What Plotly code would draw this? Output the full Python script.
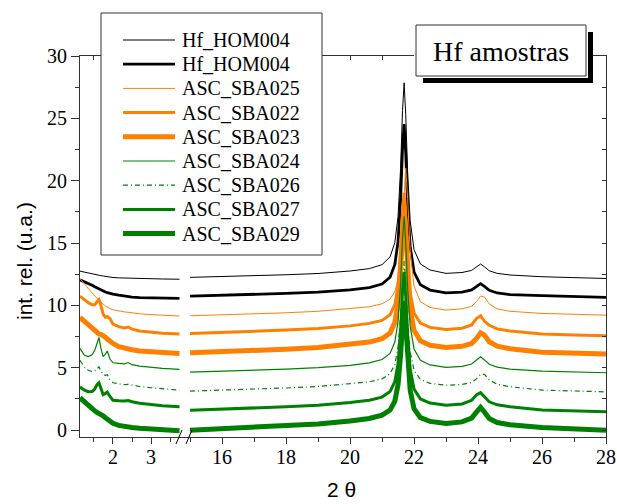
import plotly.graph_objects as go

# ---------------- data ----------------
NAMES = ["Hf_HOM004", "Hf_HOM004", "ASC_SBA025", "ASC_SBA022", "ASC_SBA023",
         "ASC_SBA024", "ASC_SBA026", "ASC_SBA027", "ASC_SBA029"]

# low-angle segment (2 theta)
L_X = [1.13, 1.25, 1.35, 1.45, 1.52, 1.58, 1.63, 1.68, 1.74, 1.80, 1.85,
       1.92, 2.0, 2.15, 2.3, 2.4, 2.5, 2.7, 3.0, 3.3, 3.75]
# wide-angle segment (2 theta)
R_X = [15.0, 16.0, 17.0, 18.0, 19.0, 20.0, 20.6, 21.0, 21.25, 21.4, 21.5,
       21.58, 21.64, 21.69, 21.74, 21.8, 21.88, 22.0, 22.2, 22.5, 23.0, 23.5,
       23.8, 23.95, 24.08, 24.2, 24.35, 24.6, 25.0, 26.0, 27.0, 28.0]

HOM004_THIN_L = [12.75, 12.66, 12.6, 12.53, 12.49, 12.45, 12.42, 12.39, 12.36, 12.33, 12.3,
                 12.27, 12.24, 12.21, 12.19, 12.18, 12.17, 12.16, 12.14, 12.12, 12.1]
HOM004_THIN_R = [12.25, 12.31, 12.38, 12.46, 12.56, 12.76, 12.95, 13.27, 13.89, 15.04, 17.13,
                 21.0, 25.63, 27.85, 25.3, 20.67, 16.8, 14.47, 13.32, 12.84, 12.57, 12.64,
                 12.81, 13.09, 13.32, 13.1, 12.78, 12.57, 12.44, 12.3, 12.23, 12.16]

HOM004_THICK_L = [12.05, 11.9, 11.78, 11.62, 11.5, 11.4, 11.32, 11.24, 11.15, 11.08, 11.02,
                  10.95, 10.9, 10.82, 10.74, 10.7, 10.67, 10.63, 10.6, 10.58, 10.56]
HOM004_THICK_R = [10.75, 10.81, 10.88, 10.96, 11.06, 11.25, 11.43, 11.71, 12.26, 13.28, 15.11,
                  18.52, 22.6, 24.55, 22.2, 18.12, 14.71, 12.67, 11.65, 11.23, 11.0, 11.07,
                  11.24, 11.52, 11.75, 11.53, 11.21, 11.0, 10.87, 10.78, 10.71, 10.64]

SBA025_L = [12.15, 11.75, 11.4, 11.0, 10.75, 10.55, 10.45, 10.3, 10.1, 9.95, 9.85,
            9.75, 9.65, 9.55, 9.48, 9.45, 9.4, 9.33, 9.26, 9.2, 9.15]
SBA025_R = [9.17, 9.24, 9.32, 9.41, 9.53, 9.72, 9.89, 10.13, 10.5, 11.11, 12.11,
            13.91, 16.5, 19.45, 21.0, 18.57, 14.34, 11.55, 10.29, 9.84, 9.62, 9.73,
            9.93, 10.3, 10.75, 10.68, 10.12, 9.72, 9.53, 9.36, 9.29, 9.22]

SBA022_L = [10.75, 10.45, 10.22, 10.05, 10.05, 10.3, 10.47, 10.05, 9.3, 9.05, 9.1,
            8.95, 8.5, 8.3, 8.2, 8.27, 8.1, 7.95, 7.85, 7.76, 7.7]
SBA022_R = [7.75, 7.83, 7.92, 8.02, 8.15, 8.36, 8.56, 8.8, 9.25, 10.06, 11.52,
            14.23, 17.48, 19.03, 16.97, 13.72, 11.01, 9.39, 8.58, 8.24, 8.07, 8.17,
            8.43, 8.95, 9.17, 8.75, 8.41, 8.12, 7.95, 7.7, 7.63, 7.56]

SBA023_L = [9.05, 8.75, 8.45, 8.15, 7.95, 7.8, 7.72, 7.68, 7.6, 7.45, 7.3,
            7.12, 6.95, 6.7, 6.55, 6.5, 6.45, 6.35, 6.27, 6.2, 6.15]
SBA023_R = [6.2, 6.28, 6.38, 6.49, 6.63, 6.85, 7.06, 7.33, 7.79, 8.63, 10.15,
            12.96, 16.33, 17.94, 15.87, 12.5, 9.69, 8.0, 7.16, 6.81, 6.63, 6.72,
            6.95, 7.34, 7.8, 7.62, 7.09, 6.73, 6.53, 6.24, 6.17, 6.1]

SBA024_L = [6.55, 6.0, 5.9, 6.05, 6.4, 7.0, 7.43, 6.6, 5.9, 6.1, 6.35,
            5.7, 5.4, 5.35, 5.32, 5.42, 5.25, 5.13, 5.03, 4.95, 4.87]
SBA024_R = [4.65, 4.72, 4.8, 4.89, 5.01, 5.2, 5.39, 5.66, 6.15, 7.06, 8.7,
            11.75, 15.39, 17.14, 15.03, 11.39, 8.34, 6.51, 5.61, 5.23, 5.03, 5.11,
            5.3, 5.62, 5.88, 5.63, 5.28, 5.05, 4.9, 4.74, 4.67, 4.6]

SBA026_L = [5.6, 5.05, 4.8, 4.7, 4.72, 4.9, 5.08, 4.75, 4.45, 4.4, 4.45,
            4.05, 3.8, 3.72, 3.65, 3.68, 3.6, 3.5, 3.4, 3.3, 3.2]
SBA026_R = [3.13, 3.2, 3.29, 3.38, 3.5, 3.7, 3.87, 4.11, 4.52, 5.27, 6.61,
            9.12, 12.11, 13.55, 11.81, 8.82, 6.31, 4.81, 4.06, 3.75, 3.6, 3.66,
            3.82, 4.11, 4.47, 4.48, 4.03, 3.67, 3.48, 3.21, 3.14, 3.07]

SBA027_L = [3.45, 3.2, 3.08, 3.1, 3.3, 3.65, 3.8, 3.35, 2.85, 2.95, 3.05,
            2.7, 2.4, 2.35, 2.33, 2.38, 2.28, 2.15, 2.05, 1.95, 1.87]
SBA027_R = [1.6, 1.68, 1.77, 1.87, 2.0, 2.21, 2.4, 2.65, 3.09, 3.88, 5.32,
            7.97, 11.16, 12.68, 10.73, 7.54, 4.89, 3.29, 2.5, 2.17, 2.0, 2.1,
            2.39, 2.82, 3.0, 2.66, 2.27, 2.03, 1.88, 1.61, 1.54, 1.47]

SBA029_L = [2.6, 2.25, 1.95, 1.7, 1.55, 1.42, 1.35, 1.28, 1.15, 1.0, 0.88,
            0.72, 0.55, 0.38, 0.28, 0.27, 0.22, 0.15, 0.08, 0.02, -0.04]
SBA029_R = [0.0, 0.1, 0.21, 0.34, 0.5, 0.74, 0.94, 1.2, 1.61, 2.33, 3.64,
            6.06, 8.97, 10.36, 8.51, 5.6, 3.18, 1.72, 1.0, 0.7, 0.54, 0.66,
            0.96, 1.44, 1.83, 1.46, 0.94, 0.61, 0.43, 0.22, 0.11, 0.0]

LEFT_Y = [HOM004_THIN_L, HOM004_THICK_L, SBA025_L, SBA022_L, SBA023_L,
          SBA024_L, SBA026_L, SBA027_L, SBA029_L]
RIGHT_Y = [HOM004_THIN_R, HOM004_THICK_R, SBA025_R, SBA022_R, SBA023_R,
           SBA024_R, SBA026_R, SBA027_R, SBA029_R]

Y_TICKS = [0, 5, 10, 15, 20, 25, 30]
XL_TICKS = [2, 3]
XR_TICKS = [16, 18, 20, 22, 24, 26, 28]

# ---------------- styles ----------------
BLACK, ORANGE, GREEN = "#000000", "#FF8000", "#008000"
COLORS = [BLACK, BLACK, ORANGE, ORANGE, ORANGE, GREEN, GREEN, GREEN, GREEN]
WIDTHS = [1.0, 2.8, 1.0, 3.0, 5.0, 1.2, 1.2, 3.0, 5.0]
DASHES = ["solid"] * 6 + ["5px,3px,1px,3px"] + ["solid"] * 2

W, H = 617, 504
ML, MR, MT, MB = 80, 11, 56, 67
PW, PH = W - ML - MR, H - MT - MB
BREAK = (184 - ML) / PW


def fx(px):
    return (px - ML) / PW


def fy(py):
    return (H - MB - py) / PH


SERIF = "Liberation Serif, Times New Roman, serif"
SANS = "Liberation Sans, Arial, sans-serif"
AXC = "#333333"

fig = go.Figure()
for i in range(len(NAMES)):
    fig.add_trace(go.Scatter(
        x=R_X, y=RIGHT_Y[i], xaxis="x2", yaxis="y", mode="lines", name=NAMES[i],
        showlegend=False,
        line=dict(color=COLORS[i], width=WIDTHS[i], dash=DASHES[i])))
for i in range(len(NAMES)):
    fig.add_trace(go.Scatter(
        x=L_X, y=LEFT_Y[i], xaxis="x", yaxis="y", mode="lines", name=NAMES[i],
        showlegend=False,
        line=dict(color=COLORS[i], width=WIDTHS[i], dash=DASHES[i])))

# empty traces so the mirror axes (top/right, inward ticks) are drawn
for xa, ya in (("x3", "y"), ("x4", "y"), ("x2", "y2")):
    fig.add_trace(go.Scatter(x=[None], y=[None], xaxis=xa, yaxis=ya,
                             showlegend=False, hoverinfo="skip"))

tickfont = dict(family=SERIF, size=20, color="black")
common_x = dict(showline=True, linecolor=AXC, linewidth=1, showgrid=False,
                zeroline=False, ticks="outside", ticklen=6, tickwidth=1,
                tickcolor=AXC, tickfont=tickfont, anchor="y", automargin=False,
                ticklabelstandoff=-4)
XL_RANGE = [1.132, 3.868]
XR_RANGE = [14.81, 28.0]
Y_RANGE = [-0.55, 30.0]

fig.update_layout(
    width=W, height=H, margin=dict(l=ML, r=MR, t=MT, b=MB, autoexpand=False),
    paper_bgcolor="white", plot_bgcolor="white",
    xaxis=dict(domain=[0, BREAK], range=XL_RANGE, tickvals=XL_TICKS,
               minor=dict(dtick=0.5, tick0=0, ticks="outside", ticklen=4,
                          tickcolor=AXC), **common_x),
    xaxis2=dict(domain=[BREAK, 1], range=XR_RANGE, tickvals=XR_TICKS,
                minor=dict(dtick=1, tick0=0, ticks="outside", ticklen=4,
                           tickcolor=AXC), **common_x),
    xaxis3=dict(overlaying="x", side="top", anchor="y", domain=[0, BREAK],
                range=XL_RANGE, showline=True, linecolor=AXC, linewidth=1,
                showgrid=False, zeroline=False, ticks="inside", ticklen=4,
                tickcolor=AXC, dtick=0.5, tick0=0, showticklabels=False,
                automargin=False),
    xaxis4=dict(overlaying="x2", side="top", anchor="y", domain=[BREAK, 1],
                range=XR_RANGE, showline=True, linecolor=AXC, linewidth=1,
                showgrid=False, zeroline=False, ticks="inside", ticklen=4,
                tickcolor=AXC, dtick=1, tick0=0, showticklabels=False,
                automargin=False),
    yaxis=dict(domain=[0, 1], range=Y_RANGE, tickvals=Y_TICKS, anchor="x",
               showline=True, linecolor=AXC, linewidth=1, showgrid=False,
               zeroline=False, ticks="outside", ticklen=8, tickcolor=AXC,
               tickfont=tickfont, automargin=False,
               minor=dict(dtick=2.5, tick0=0, ticks="outside", ticklen=4,
                          tickcolor=AXC)),
    yaxis2=dict(overlaying="y", side="right", anchor="x2", range=Y_RANGE,
                showline=True, linecolor=AXC, linewidth=1, showgrid=False,
                zeroline=False, ticks="inside", ticklen=4, tickcolor=AXC,
                dtick=2.5, tick0=0, showticklabels=False, automargin=False),
    showlegend=False,
)

# ---- legend box (drawn as a key panel) ----
LEG_X0, LEG_X1, LEG_Y0, LEG_Y1 = 101, 322, 13, 255
ROW0, ROWSTEP = 40.0, 24.2
fig.add_shape(type="rect", xref="paper", yref="paper", layer="above",
              x0=fx(LEG_X0), x1=fx(LEG_X1), y0=fy(LEG_Y1), y1=fy(LEG_Y0),
              fillcolor="white", line=dict(color=AXC, width=1))
for i, name in enumerate(NAMES):
    ry = ROW0 + ROWSTEP * i
    fig.add_shape(type="line", xref="paper", yref="paper", layer="above",
                  x0=fx(123), x1=fx(175), y0=fy(ry), y1=fy(ry),
                  line=dict(color=COLORS[i], width=WIDTHS[i], dash=DASHES[i]))
    fig.add_annotation(text=name, xref="paper", yref="paper", x=fx(180), y=fy(ry),
                       xanchor="left", yanchor="middle", showarrow=False,
                       font=dict(family=SERIF, size=20, color="black"))

# ---- title box with drop shadow ----
fig.add_shape(type="rect", xref="paper", yref="paper", layer="above",
              x0=fx(423), x1=fx(593), y0=fy(83), y1=fy(32),
              fillcolor="black", line=dict(width=0))
fig.add_shape(type="rect", xref="paper", yref="paper", layer="above",
              x0=fx(414), x1=fx(588), y0=fy(78), y1=fy(23),
              fillcolor="white", line=dict(width=0))
fig.add_shape(type="rect", xref="paper", yref="paper", layer="above",
              x0=fx(416), x1=fx(586), y0=fy(76), y1=fy(25),
              fillcolor="white", line=dict(color=AXC, width=1))
fig.add_annotation(text="Hf amostras", xref="paper", yref="paper",
                   x=fx(501), y=fy(51), xanchor="center", yanchor="middle",
                   showarrow=False, font=dict(family=SERIF, size=28, color="black"))

# ---- axis break marks ----
for x0 in (176, 186):
    fig.add_shape(type="line", xref="paper", yref="paper", layer="above",
                  x0=fx(x0), y0=fy(444), x1=fx(x0 + 6), y1=fy(430),
                  line=dict(color="black", width=1))

# ---- axis titles ----
fig.add_annotation(text="int. rel. (u.a.)", xref="paper", yref="paper",
                   x=fx(24), y=fy(261), xanchor="center", yanchor="middle",
                   showarrow=False, textangle=-90,
                   font=dict(family=SANS, size=21, color="black"))
fig.add_annotation(text="2 θ", xref="paper", yref="paper",
                   x=fx(341), y=fy(490), xanchor="center", yanchor="middle",
                   showarrow=False, borderpad=0,
                   font=dict(family=SANS, size=21, color="black"))

fig.write_html("out.html")
